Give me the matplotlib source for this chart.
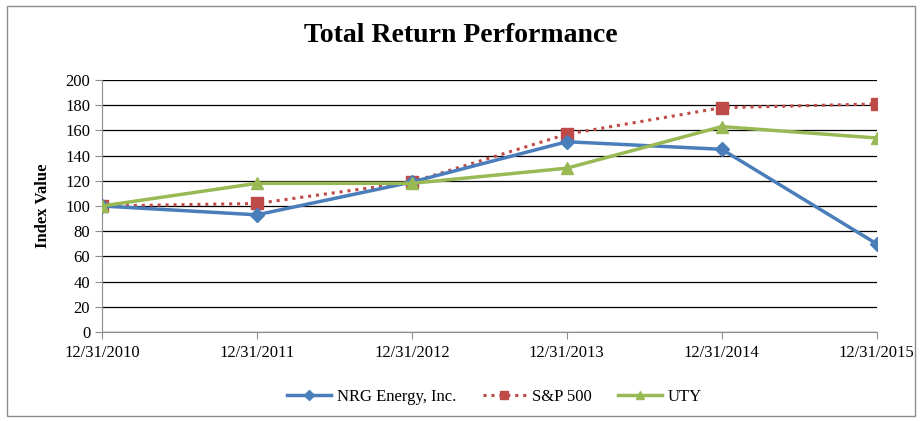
import matplotlib.pyplot as plt
from matplotlib.patches import Rectangle

plt.rcParams['font.family'] = ['Liberation Serif', 'DejaVu Serif']

dates = ['12/31/2010', '12/31/2011', '12/31/2012', '12/31/2013', '12/31/2014', '12/31/2015']
nrg = [100, 93, 119, 151, 145, 70]
spx = [100, 102, 119, 157, 178, 181]
uty = [100, 118, 118, 130, 163, 154]
yticks = list(range(0, 201, 20))

fig = plt.figure(figsize=(9.21, 4.21), dpi=100)
ax = fig.add_axes([0.1108, 0.2114, 0.841, 0.5986])

x = range(len(dates))
ax.plot(x, nrg, color='#4A7EBB', lw=2.5, marker='D', ms=7, label='NRG Energy, Inc.', zorder=4)
ax.plot(x, spx, color='#BE4B48', lw=2.2, ls=(0, (1, 1.6)), marker='s', ms=9, label='S&P 500', zorder=3)
ax.plot(x, uty, color='#98B954', lw=2.5, marker='^', ms=9, label='UTY', zorder=5)

ax.set_xlim(0, len(dates) - 1)
ax.set_ylim(0, 200)
ax.set_yticks(yticks)
ax.set_xticks(list(x))
ax.set_xticklabels(dates)
ax.yaxis.grid(True, color='black', lw=0.9)
ax.set_axisbelow(True)
for s in ['top', 'right']:
    ax.spines[s].set_visible(False)
for s in ['left', 'bottom']:
    ax.spines[s].set_color('#8c8c8c')
ax.tick_params(axis='both', colors='#8c8c8c', labelcolor='black', labelsize=12, length=5)
ax.tick_params(axis='x', pad=4)
ax.set_ylabel('Index Value', fontsize=12, fontweight='bold', labelpad=10)

fig.suptitle('Total Return Performance', fontsize=20, fontweight='bold', y=0.945)

leg = fig.legend(loc='center', bbox_to_anchor=(0.537, 0.057), ncol=3, frameon=False,
                 fontsize=12, handlelength=2.6, columnspacing=1.6, handletextpad=0.35,
                 markerscale=0.7)

fig.patches.append(Rectangle((0.008, 0.012), 0.986, 0.974, transform=fig.transFigure,
                             fill=False, edgecolor='#8c8c8c', lw=1))

fig.savefig('out.png', dpi=100)
